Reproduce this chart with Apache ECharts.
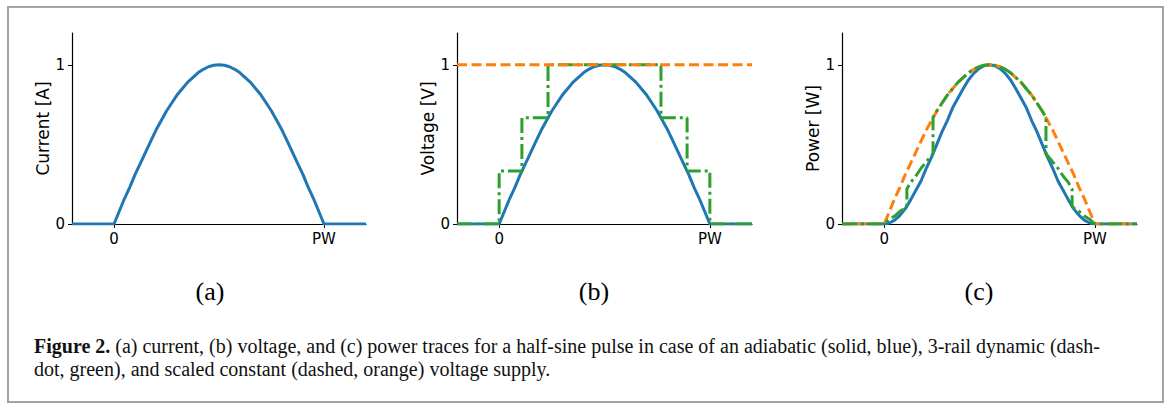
<!DOCTYPE html>
<html>
<head>
<meta charset="utf-8">
<script src="https://cdn.jsdelivr.net/npm/echarts@6/dist/echarts.min.js"></script>
<style>
  html, body { margin: 0; padding: 0; background: #fff; }
  #chart { width: 1169px; height: 403px; }
</style>
</head>
<body>
<div id="chart"></div>
<script>
// time axis, in units of the pulse width PW
const t = [-0.2, 0, 0.025, 0.05, 0.075, 0.1, 0.125, 0.15, 0.175, 0.2, 0.225, 0.25,
  0.275, 0.3, 0.325, 0.35, 0.375, 0.4, 0.425, 0.45, 0.475, 0.5,
  0.525, 0.55, 0.575, 0.6, 0.625, 0.65, 0.675, 0.7, 0.725, 0.75,
  0.775, 0.8, 0.825, 0.85, 0.875, 0.9, 0.925, 0.95, 0.975, 1, 1.2]

// (a) current, also the adiabatic voltage and the constant-supply power
const current = [0, 0, 0.08, 0.16, 0.23, 0.31, 0.38, 0.45, 0.52, 0.59, 0.65, 0.71,
  0.76, 0.81, 0.85, 0.89, 0.92, 0.95, 0.972, 0.988, 0.997, 1,
  0.997, 0.988, 0.972, 0.95, 0.92, 0.89, 0.85, 0.81, 0.76, 0.71,
  0.65, 0.59, 0.52, 0.45, 0.38, 0.31, 0.23, 0.16, 0.08, 0, 0]
const voltageAdiabatic = current
const voltageConstT = [-0.2, 1.2]
const voltageConst = [1, 1]

// 3-rail supply steps
const railT = [-0.2, 0, 0, 0.108, 0.108, 0.232, 0.232, 0.768, 0.768, 0.892, 0.892, 1, 1, 1.2]
const voltageRail = [0, 0, 0.333, 0.333, 0.667, 0.667, 1, 1, 0.667, 0.667, 0.333, 0.333, 0, 0]

// (c) power
const powerAdiabatic = [0, 0, 0.006, 0.024, 0.054, 0.095, 0.15, 0.21, 0.27, 0.35, 0.42, 0.5,
  0.58, 0.65, 0.73, 0.79, 0.85, 0.905, 0.946, 0.976, 0.994, 1,
  0.994, 0.976, 0.946, 0.905, 0.85, 0.79, 0.73, 0.65, 0.58, 0.5,
  0.42, 0.35, 0.27, 0.21, 0.15, 0.095, 0.054, 0.024, 0.006, 0, 0]
const powerConst = current
const powerRailT = [-0.2, 0, 0.025, 0.05, 0.075, 0.1, 0.108, 0.108, 0.125, 0.15, 0.175, 0.2, 0.225, 0.232,
  0.232, 0.25, 0.275, 0.3, 0.325, 0.35, 0.375, 0.4, 0.425, 0.45, 0.475, 0.5,
  0.525, 0.55, 0.575, 0.6, 0.625, 0.65, 0.675, 0.7, 0.725, 0.75, 0.768,
  0.768, 0.775, 0.8, 0.825, 0.85, 0.875, 0.892, 0.892, 0.9, 0.925, 0.95, 0.975, 1, 1.2]
const powerRail = [0, 0, 0.03, 0.05, 0.08, 0.1, 0.11, 0.22, 0.26, 0.3, 0.35, 0.39, 0.43, 0.44,
  0.67, 0.71, 0.76, 0.81, 0.85, 0.89, 0.92, 0.95, 0.972, 0.988, 0.997, 1,
  0.997, 0.988, 0.972, 0.95, 0.92, 0.89, 0.85, 0.81, 0.76, 0.71, 0.67,
  0.44, 0.43, 0.39, 0.35, 0.3, 0.26, 0.22, 0.11, 0.1, 0.08, 0.05, 0.03, 0, 0]

const yNames = ['Current [A]', 'Voltage [V]', 'Power [W]']
const panelLabels = ['(a)', '(b)', '(c)']

const BLUE = '#1f77b4'
const ORANGE = '#ff7f0e'
const GREEN = '#2ca02c'

const zip = (xs, ys) => xs.map((x, i) => [x, ys[i]])

const grids = [
  { left: 72, top: 33, width: 294, height: 191 },
  { left: 457, top: 33, width: 295, height: 191 },
  { left: 842, top: 33, width: 295, height: 191 }
]
const labelCenters = [210, 594, 979]

const tickFont = { fontFamily: 'DejaVu Sans', fontSize: 15, color: '#000' }

const xAxes = grids.map((g, i) => ({
  type: 'value',
  gridIndex: i,
  min: -0.2,
  max: 1.2,
  splitLine: { show: false },
  axisLine: { show: true, onZero: false, lineStyle: { color: '#000', width: 1.2 } },
  axisTick: { show: true, customValues: [0, 1], length: 4, lineStyle: { color: '#000', width: 1 } },
  axisLabel: {
    ...tickFont,
    margin: 7,
    customValues: [0, 1],
    formatter: v => (v === 1 ? 'PW' : '0')
  }
}))

const yAxes = grids.map((g, i) => ({
  type: 'value',
  gridIndex: i,
  min: 0,
  max: 1.2,
  name: yNames[i],
  nameLocation: 'middle',
  nameRotate: 90,
  nameGap: 20,
  nameTextStyle: { fontFamily: 'DejaVu Sans', fontSize: 17, color: '#000' },
  splitLine: { show: false },
  axisLine: { show: true, onZero: false, lineStyle: { color: '#000', width: 1.2 } },
  axisTick: { show: true, customValues: [0, 1], length: 4, lineStyle: { color: '#000', width: 1 } },
  axisLabel: { ...tickFont, margin: 7, customValues: [0, 1], formatter: v => String(v) }
}))

function line(idx, data, color, dash, z) {
  return {
    type: 'line',
    xAxisIndex: idx,
    yAxisIndex: idx,
    data: data,
    showSymbol: false,
    silent: true,
    z: z,
    lineStyle: { color: color, width: 3, type: dash || 'solid', cap: 'butt' }
  }
}

const DASHED = [10, 4.5]
const DASHDOT = [15, 4, 3, 4]

const series = [
  line(0, zip(t, current), BLUE, null, 2),

  line(1, zip(t, voltageAdiabatic), BLUE, null, 2),
  line(1, zip(railT, voltageRail), GREEN, DASHDOT, 3),
  line(1, zip(voltageConstT, voltageConst), ORANGE, DASHED, 4),

  line(2, zip(t, powerAdiabatic), BLUE, null, 2),
  line(2, zip(t, powerConst), ORANGE, DASHED, 3),
  line(2, zip(powerRailT, powerRail), GREEN, DASHDOT, 4)
]

const graphic = [
  {
    type: 'rect',
    shape: { x: 8, y: 7, width: 1155, height: 395 },
    style: { fill: 'none', stroke: '#a3a3a3', lineWidth: 2 },
    silent: true
  },
  ...panelLabels.map((txt, i) => ({
    type: 'text',
    x: labelCenters[i],
    y: 291,
    style: {
      text: txt,
      fontFamily: 'Liberation Serif',
      fontSize: 26,
      fill: '#000',
      align: 'center',
      verticalAlign: 'middle'
    }
  })),
  {
    type: 'text',
    x: 34,
    y: 334,
    style: {
      text: '{b|Figure 2.} (a) current, (b) voltage, and (c) power traces for a half-sine pulse in case of an adiabatic (solid, blue), 3-rail dynamic (dash-\n' +
        'dot, green), and scaled constant (dashed, orange) voltage supply.',
      fontFamily: 'Liberation Serif',
      fontSize: 20,
      lineHeight: 23,
      fill: '#111',
      rich: {
        b: { fontFamily: 'Liberation Serif', fontSize: 20, fontWeight: 'bold', fill: '#111', lineHeight: 23 }
      }
    }
  }
]

const chart = echarts.init(document.getElementById('chart'), null, { renderer: 'svg' })
chart.setOption({
  animation: false,
  backgroundColor: '#fff',
  grid: grids,
  xAxis: xAxes,
  yAxis: yAxes,
  series: series,
  graphic: graphic
})
</script>
</body>
</html>
